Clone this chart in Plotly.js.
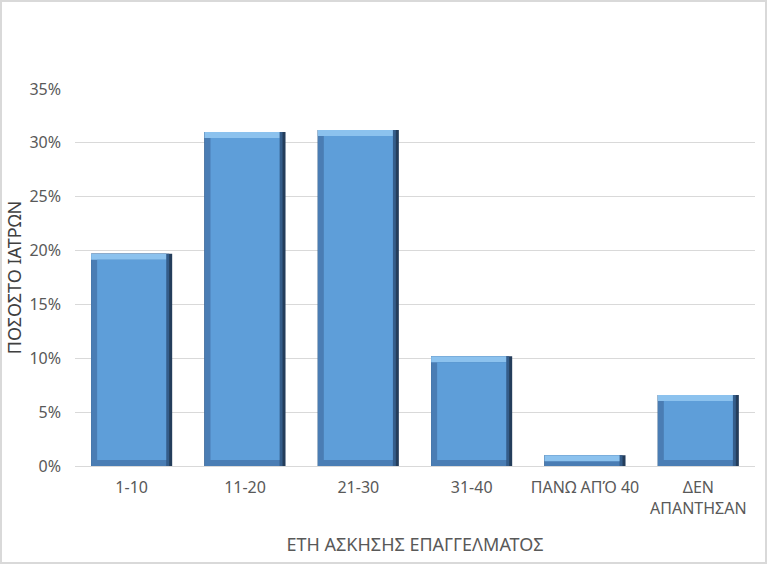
<!DOCTYPE html>
<html>
<head>
<meta charset="utf-8">
<script src="https://cdn.plot.ly/plotly-3.0.1.min.js"></script>
<style>
html,body{margin:0;padding:0;background:#fff;}
#frame{width:767px;height:564px;box-sizing:border-box;border:2px solid #d9d9d9;background:#fff;}
#chart{width:763px;height:560px;}
</style>
</head>
<body>
<div id="frame"><div id="chart"></div></div>
<script>
// Data
var categories = ["1-10", "11-20", "21-30", "31-40", "ΠΑΝΩ ΑΠΌ 40", "ΔΕΝ<br>ΑΠΑΝΤΗΣΑΝ"];
var shares = [0.197, 0.310, 0.312, 0.102, 0.010, 0.066];
var tickValues = [0, 0.05, 0.10, 0.15, 0.20, 0.25, 0.30, 0.35];
var tickLabels = ["0%", "5%", "10%", "15%", "20%", "25%", "30%", "35%"];

// Style constants (bevel look)
var W = 0.715;          // bar width in category units
var pxX = 1 / 113.3;    // one pixel in category units
var pxY = 0.35 / 377;   // one pixel in value units
var bev = 6;

var n = categories.length;
function fill(v){ return categories.map(function(){ return v; }); }

var outer = {
  type: 'bar', x: categories, y: shares, base: fill(0),
  width: fill(W), offset: fill(-W/2),
  marker: {color: '#243d5b'}, hoverinfo: 'skip', showlegend: false
};
var edge = {
  type: 'bar', x: categories, y: shares, base: fill(0),
  width: fill(W - 3*pxX), offset: fill(-W/2),
  marker: {color: '#355d8a'}, hoverinfo: 'skip', showlegend: false
};
var inner = {
  type: 'bar', x: categories, y: shares, base: fill(0),
  width: fill(W - bev*pxX), offset: fill(-W/2),
  marker: {color: '#4a7db4'}, hoverinfo: 'skip', showlegend: false
};
var topBand = {
  type: 'bar', x: categories,
  y: shares.map(function(v){ return Math.min(v, bev*pxY); }),
  base: shares.map(function(v){ return v - Math.min(v, bev*pxY); }),
  width: fill(W - bev*pxX), offset: fill(-W/2),
  marker: {color: '#8cc2ee'}, hoverinfo: 'skip', showlegend: false
};
var face = {
  type: 'bar', x: categories,
  y: shares.map(function(v){ return Math.max(0, v - 2*bev*pxY); }),
  base: fill(bev*pxY),
  width: fill(W - 2*bev*pxX), offset: fill(-W/2 + bev*pxX),
  marker: {color: '#5e9ed9'}, hoverinfo: 'skip', showlegend: false
};

var font = "'Noto Sans', 'DejaVu Sans', sans-serif";
var layout = {
  width: 763, height: 560,
  margin: {l: 73, r: 10, t: 87, b: 96},
  paper_bgcolor: '#ffffff', plot_bgcolor: '#ffffff',
  barmode: 'overlay',
  font: {family: font, size: 16, color: '#595959'},
  xaxis: {
    type: 'category', showgrid: false, zeroline: false,
    showline: false, ticks: '', ticklabelstandoff: 10,
    tickfont: {family: font, size: 16, color: '#595959'},
    title: {text: 'ΕΤΗ ΑΣΚΗΣΗΣ ΕΠΑΓΓΕΛΜΑΤΟΣ', font: {family: font, size: 18, color: '#595959'}, standoff: 20},
    range: [-0.5, n - 0.5], fixedrange: true
  },
  yaxis: {
    range: [0, 0.35], tickvals: tickValues, ticktext: tickLabels,
    showgrid: true, gridcolor: '#d9d9d9', gridwidth: 1,
    zeroline: true, zerolinecolor: '#d9d9d9', zerolinewidth: 1,
    showline: false, ticks: '', ticklabelstandoff: 13,
    tickfont: {family: font, size: 16, color: '#595959'},
    title: {text: 'ΠΟΣΟΣΤΟ ΙΑΤΡΩΝ', font: {family: font, size: 18, color: '#404040'}, standoff: 3},
    fixedrange: true
  }
};

Plotly.newPlot('chart', [outer, edge, inner, topBand, face], layout, {staticPlot: true, displayModeBar: false});
</script>
</body>
</html>
